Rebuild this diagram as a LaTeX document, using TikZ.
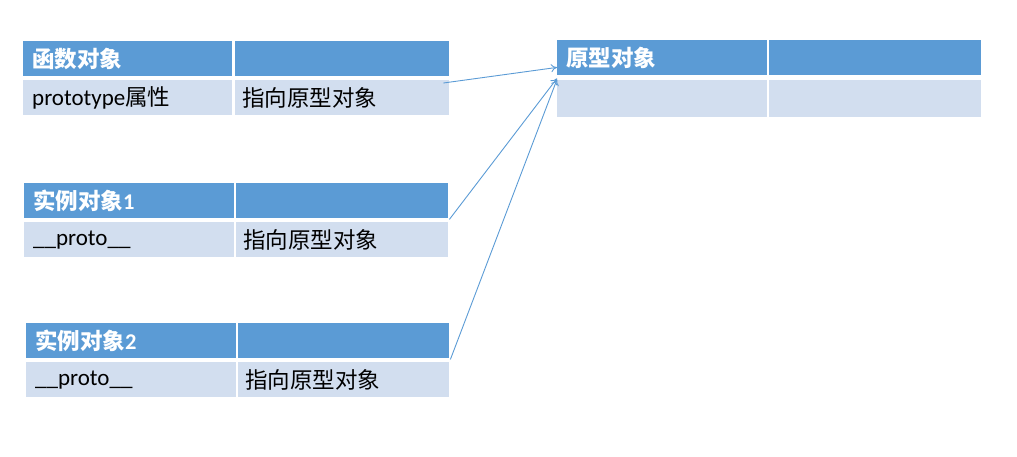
\documentclass[tikz,border=0pt]{standalone}
\usepackage{fontspec}
\usepackage{tikz}
\usetikzlibrary{arrows.meta, calc}
\setmainfont{Carlito}
\newfontfamily\cjk{Noto Sans CJK SC}
\definecolor{headBlue}{HTML}{5B9BD5}
\definecolor{bodyBlue}{HTML}{D2DEEF}
\tikzset{
    cell_head/.style={
        rectangle, fill=headBlue, draw=none, inner sep=0pt,
        minimum height=35pt, anchor=north west,
        text=white, font=\fontsize{22.5}{26}\selectfont\cjk\bfseries,
        text width=#1, align=left
    },
    cell_body/.style={
        rectangle, fill=bodyBlue, draw=none, inner sep=0pt,
        minimum height=35pt, anchor=north west,
        text=black, font=\fontsize{22.5}{26}\selectfont\cjk,
        text width=#1, align=left
    },
    link_arrow/.style={
        -{To[length=6pt, width=8pt]}, draw=headBlue, line width=0.9pt
    }
}

\begin{document}
\begin{tikzpicture}[x=1pt, y=-1pt]
    \useasboundingbox (0,0) rectangle (1017,456);

    % Function object table
    \node[cell_head=209pt] (fh1) at (23,41) {\hspace*{9pt}函数对象};
    \node[cell_head=214pt] (fh2) at (235,41) {};
    \node[cell_body=209pt] (fb1) at (23,80) {\hspace*{9pt}{\rmfamily\fontsize{23}{26}\selectfont prototype}属性};
    \node[cell_body=214pt] (fb2) at (235,80) {\hspace*{7pt}指向原型对象};

    % Prototype object table
    \node[cell_head=210pt] (ph1) at (557,40) {\hspace*{9pt}原型对象};
    \node[cell_head=212pt] (ph2) at (769,40) {};
    \node[cell_body=210pt, minimum height=37pt] (pb1) at (557,80) {};
    \node[cell_body=212pt, minimum height=37pt] (pb2) at (769,80) {};

    % Instance 1 table
    \node[cell_head=210pt] (ah1) at (24,183) {\hspace*{9pt}实例对象{\rmfamily\bfseries 1}};
    \node[cell_head=212pt] (ah2) at (236,183) {};
    \node[cell_body=210pt] (ab1) at (24,222) {\hspace*{9pt}{\rmfamily\fontsize{23}{26}\selectfont \_\_proto\_\_}};
    \node[cell_body=212pt] (ab2) at (236,222) {\hspace*{7pt}指向原型对象};

    % Instance 2 table
    \node[cell_head=210pt] (bh1) at (26,323) {\hspace*{9pt}实例对象{\rmfamily\bfseries 2}};
    \node[cell_head=211pt] (bh2) at (238,323) {};
    \node[cell_body=210pt] (bb1) at (26,362) {\hspace*{9pt}{\rmfamily\fontsize{23}{26}\selectfont \_\_proto\_\_}};
    \node[cell_body=211pt] (bb2) at (238,362) {\hspace*{7pt}指向原型对象};

    % Links to the prototype
    \draw[link_arrow] ($(fb2.north east)+(-6,3)$) -- ($(ph1.south west)+(0,-8)$);
    \draw[link_arrow] ($(ah2.south east)+(1,1)$) -- ($(ph1.south west)+(0,3)$);
    \draw[link_arrow] ($(bh2.south east)+(1,1)$) -- ($(ph1.south west)+(0,4)$);
\end{tikzpicture}
\end{document}
